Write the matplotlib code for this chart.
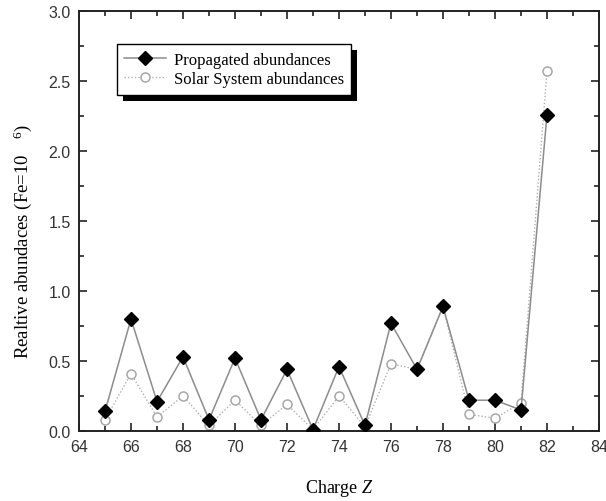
import matplotlib
matplotlib.use("Agg")
import matplotlib.pyplot as plt
from matplotlib.patches import Rectangle
from matplotlib.ticker import MultipleLocator

charge = [65, 66, 67, 68, 69, 70, 71, 72, 73, 74, 75, 76, 77, 78, 79, 80, 81, 82]
propagated = [0.14, 0.80, 0.21, 0.53, 0.08, 0.52, 0.08, 0.44, 0.01, 0.46, 0.04,
              0.77, 0.44, 0.89, 0.22, 0.22, 0.15, 2.26]
solar = [0.08, 0.41, 0.10, 0.25, 0.04, 0.22, 0.04, 0.19, 0.01, 0.25, 0.03,
         0.48, 0.44, 0.89, 0.12, 0.09, 0.20, 2.57]

plt.rcParams["mathtext.fontset"] = "custom"
plt.rcParams["mathtext.rm"] = "Liberation Serif"
plt.rcParams["mathtext.it"] = "Liberation Serif:italic"

fig = plt.figure(figsize=(6.06, 5.02), dpi=100)
ax = fig.add_axes([79 / 606, 1 - 432 / 502, 520 / 606, 420 / 502])

ax.plot(charge, solar, color="#b0b0b0", lw=1.0, ls=(0, (1, 1.5)),
        marker="o", ms=6.5, mfc="white", mec="#a8a8a8", mew=1.1,
        label="Solar System abundances", zorder=2)
ax.plot(charge, propagated, color="#8c8c8c", lw=1.1, ls="-",
        marker="D", ms=7, mfc="black", mec="black",
        label="Propagated abundances", zorder=3)

ax.set_xlim(64, 84)
ax.set_ylim(0, 3.0)
ax.xaxis.set_major_locator(MultipleLocator(2))
ax.xaxis.set_minor_locator(MultipleLocator(1))
ax.yaxis.set_major_locator(MultipleLocator(0.5))
ax.yaxis.set_minor_locator(MultipleLocator(0.25))
ax.tick_params(which="both", direction="in", top=True, right=True,
               width=1.2, colors="#222222")
ax.tick_params(which="major", length=6, labelsize=11.5, pad=6, labelcolor="#333333")
ax.tick_params(which="minor", length=3.5)
for lbl in ax.get_xticklabels() + ax.get_yticklabels():
    lbl.set_family("Liberation Sans")
for sp in ax.spines.values():
    sp.set_linewidth(1.4)
    sp.set_color("#222222")

ax.set_xlabel("Charge $\\mathit{Z}$", family="Liberation Serif", fontsize=13, labelpad=16)
ax.set_ylabel("Realtive abundaces (Fe=10$^{\\quad\\ \\ 6}$)", family="Liberation Serif",
              fontsize=13.5)
ax.yaxis.set_label_coords(-0.086, 0.454)

handles, labels = ax.get_legend_handles_labels()
leg = ax.legend(handles[::-1], labels[::-1], loc="upper left",
                bbox_to_anchor=(0.073, 0.921), borderaxespad=0,
                frameon=True, fancybox=False,
                edgecolor="black", framealpha=1, handlelength=2.5,
                borderpad=0.45, labelspacing=0.2, handletextpad=0.45,
                prop={"family": "Liberation Serif", "size": 12})
leg.get_frame().set_linewidth(1.0)
leg.set_zorder(6)

# black drop shadow behind the legend box
fig.canvas.draw()
bb = leg.get_window_extent()
shadow = Rectangle((bb.x0 + 6, bb.y0 - 6), bb.width, bb.height,
                   transform=None, facecolor="black", edgecolor="none", zorder=5)
ax.add_artist(shadow)

fig.savefig("out.png", dpi=100)
